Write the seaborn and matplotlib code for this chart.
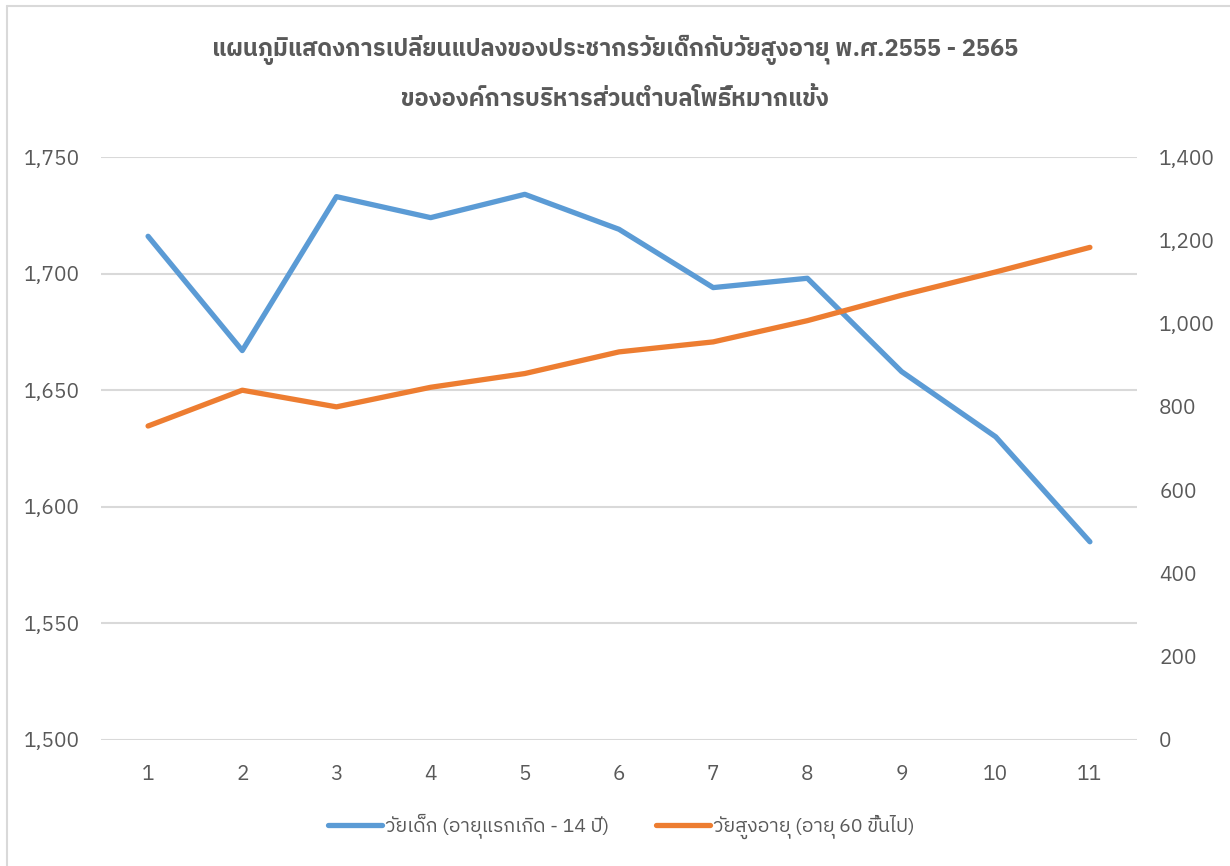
import pandas as pd
import matplotlib.pyplot as plt
import matplotlib.lines as mlines
import seaborn as sns
from matplotlib import font_manager
from matplotlib.ticker import FuncFormatter
from fontTools.ttLib import TTFont

# data
years = list(range(1, 12))
children = [1716, 1667, 1733, 1724, 1734, 1719, 1694, 1698, 1658, 1630, 1585]
elderly = [754, 840, 800, 847, 880, 932, 956, 1007, 1068, 1124, 1183]

title_1 = "แผนภูมิแสดงการเปลี่ยนแปลงของประชากรวัยเด็กกับวัยสูงอายุ พ.ศ.2555 - 2565"
title_2 = "ขององค์การบริหารส่วนตำบลโพธิ์หมากแข้ง"
label_children = "วัยเด็ก (อายุแรกเกิด - 14 ปี)"
label_elderly = "วัยสูงอายุ (อายุ 60 ขึ้นไป)"


# find an installed family that actually has Thai glyphs
def thai_families():
    found = []
    for f in font_manager.fontManager.ttflist:
        try:
            cmap = TTFont(f.fname, fontNumber=0, lazy=True).getBestCmap()
        except Exception:
            continue
        if cmap and 0x0E01 in cmap and f.name not in found:
            found.append(f.name)
    found.sort(key=lambda n: (0 if 'Sans' in n else 1, n))
    return found


df = pd.DataFrame({'year': years, 'children': children, 'elderly': elderly})

sns.set_style("white")
plt.rcParams['font.family'] = thai_families() + ['DejaVu Sans']

grey = '#595959'
blue = '#5B9BD5'
orange = '#ED7D31'

fig = plt.figure(figsize=(12.3, 8.66), dpi=100)
ax = fig.add_axes([0.0821, 0.1455, 0.8423, 0.6732])
ax2 = ax.twinx()

sns.lineplot(data=df, x='year', y='children', ax=ax, color=blue, linewidth=3.8,
             solid_capstyle='round', legend=False)
sns.lineplot(data=df, x='year', y='elderly', ax=ax2, color=orange, linewidth=3.8,
             solid_capstyle='round', legend=False)

ax.set_xlim(0.5, 11.5)
ax.set_ylim(1500, 1750)
ax.set_yticks(range(1500, 1751, 50))
ax2.set_ylim(0, 1400)
ax2.set_yticks(range(0, 1401, 200))

fmt = FuncFormatter(lambda v, p: f'{v:,.0f}')
ax.yaxis.set_major_formatter(fmt)
ax2.yaxis.set_major_formatter(fmt)
ax.set_xticks(years)

ax.grid(axis='y', color='#D9D9D9', linewidth=1.5)
ax.set_axisbelow(True)
ax2.grid(False)

for a in (ax, ax2):
    for s in a.spines.values():
        s.set_visible(False)
    a.tick_params(length=0, labelsize=15, labelcolor=grey)
    a.set_xlabel('')
    a.set_ylabel('')
ax.tick_params(axis='y', pad=15)
ax2.tick_params(axis='y', pad=16)
ax.tick_params(axis='x', pad=18)

fig.text(0.5, 1 - 50 / 866, title_1, ha='center', va='center', fontsize=17,
         fontweight='bold', color=grey)
fig.text(0.5, 1 - 100 / 866, title_2, ha='center', va='center', fontsize=17,
         fontweight='bold', color=grey)

handles = [mlines.Line2D([0], [0], color=blue, linewidth=3.8, solid_capstyle='round', label=label_children),
           mlines.Line2D([0], [0], color=orange, linewidth=3.8, solid_capstyle='round', label=label_elderly)]
fig.legend(handles=handles, loc='center', bbox_to_anchor=(0.505, 0.046), ncol=2, frameon=False,
           fontsize=14, labelcolor=grey, handlelength=2.8, handletextpad=0.15, columnspacing=2.4)

# thin frame of the chart area as in the screenshot
fig.add_artist(mlines.Line2D([7 / 1230, 7 / 1230], [0, 1 - 6 / 866], color='#D9D9D9', linewidth=1.5))
fig.add_artist(mlines.Line2D([7 / 1230, 1], [1 - 6 / 866, 1 - 6 / 866], color='#D9D9D9', linewidth=1.5))

fig.savefig('out.png', dpi=100)
